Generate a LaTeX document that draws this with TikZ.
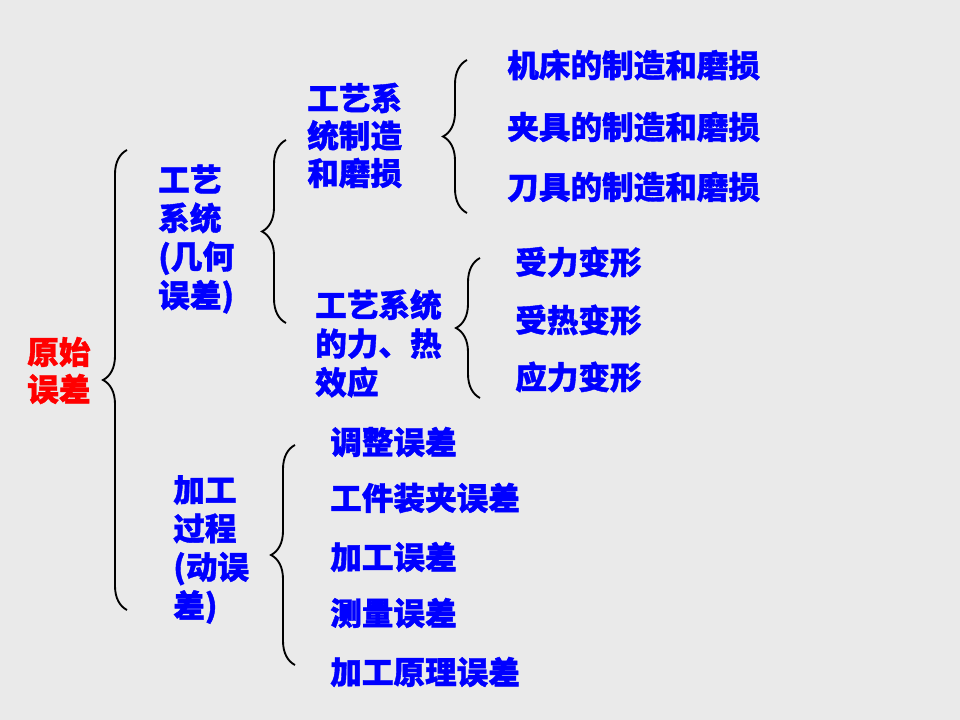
\documentclass[tikz,border=0pt]{standalone}
\usepackage{fontspec}
\newfontfamily\cjk{Noto Sans CJK SC}[BoldFeatures={FakeBold=1.2}]
\usetikzlibrary{decorations.pathreplacing}
\definecolor{bgray}{HTML}{EAEAEA}
\definecolor{tblue}{HTML}{0000FF}
\definecolor{tred}{HTML}{FF0000}
\tikzset{
  lbl/.style={font=\cjk\bfseries\fontsize{23.7}{28.5}\selectfont, text=tblue, anchor=west, inner sep=0pt, align=left},
  rootlbl/.style={lbl, text=tred},
  lbrace/.style={draw=black, line width=1.4pt, decorate, decoration={brace, amplitude=18pt, aspect=0.5}},
}
\begin{document}
\begin{tikzpicture}[x=0.75pt,y=-0.75pt]
\fill[bgray] (0,0) rectangle (960,720);
\useasboundingbox (0,0) rectangle (960,720);

% texts
\node[rootlbl, font=\cjk\bfseries\fontsize{23.7}{27.8}\selectfont] (root) at (27,370.5) {原始\\误差};
\node[lbl, font=\cjk\bfseries\fontsize{23.7}{28.9}\selectfont] (geo) at (158,239) {工艺\\系统\\(几何\\误差)};
\node[lbl, font=\cjk\bfseries\fontsize{23.7}{28.9}\selectfont] (dyn) at (173,549.5) {加工\\过程\\(动误\\差)};
\node[lbl, font=\cjk\bfseries\fontsize{23.7}{28.1}\selectfont] (mfg) at (307,135.5) {工艺系\\统制造\\和磨损};
\node[lbl, font=\cjk\bfseries\fontsize{23.7}{29}\selectfont] (heat) at (315,343.5) {工艺系统\\的力、热\\效应};

\node[lbl] (m1) at (507,65) {机床的制造和磨损};
\node[lbl] (m2) at (507,127) {夹具的制造和磨损};
\node[lbl] (m3) at (507,187) {刀具的制造和磨损};

\node[lbl] (h1) at (515,262) {受力变形};
\node[lbl] (h2) at (515,320) {受热变形};
\node[lbl] (h3) at (515,377) {应力变形};

\node[lbl] (d1) at (330,442) {调整误差};
\node[lbl] (d2) at (330,498) {工件装夹误差};
\node[lbl] (d3) at (330,557) {加工误差};
\node[lbl] (d4) at (330,613) {测量误差};
\node[lbl] (d5) at (330,672) {加工原理误差};

% braces
\coordinate (b1t) at (127,150); \coordinate (b1b) at (127,610);
\coordinate (b2t) at (286,140); \coordinate (b2b) at (286,323);
\coordinate (b3t) at (467,60);  \coordinate (b3b) at (467,213);
\coordinate (b4t) at (480,258); \coordinate (b4b) at (480,398);
\coordinate (b5t) at (295,445); \coordinate (b5b) at (295,665);
\draw[lbrace] (b1b) -- (b1t);
\draw[lbrace] (b2b) -- (b2t);
\draw[lbrace] (b3b) -- (b3t);
\draw[lbrace] (b4b) -- (b4t);
\draw[lbrace] (b5b) -- (b5t);
\end{tikzpicture}
\end{document}
